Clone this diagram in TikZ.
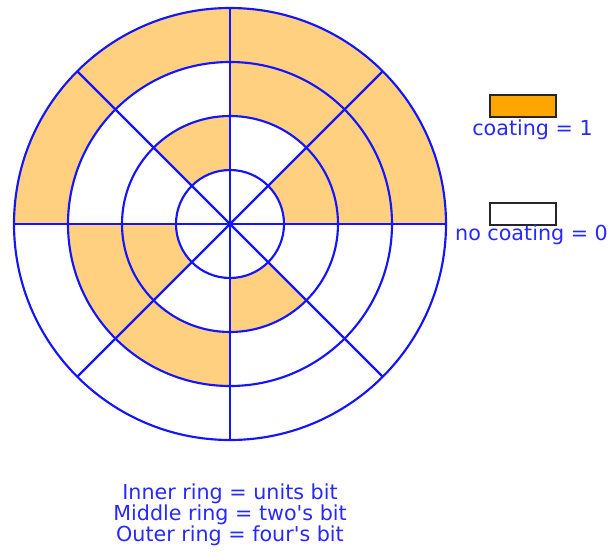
\documentclass[tikz,border=0pt]{standalone}
\usepackage{fontspec}
\setmainfont{DejaVu Sans}[Ligatures=TeXOff]
\definecolor{ringblue}{RGB}{20,20,255}
\definecolor{textblue}{RGB}{40,40,255}
\definecolor{coatfill}{RGB}{255,208,128}
\definecolor{legorange}{RGB}{255,165,0}
\newcommand\ringsect[3]{\fill[coat] (#1:#2) arc[start angle=#1, end angle=#1+45, radius=#2] -- (#1+45:#3) arc[start angle=#1+45, end angle=#1, radius=#3] -- cycle;}
\begin{document}
\begin{tikzpicture}[x=0.75pt,y=0.75pt,
  coat/.style={fill=coatfill},
  ringline/.style={draw=ringblue,line width=1.6pt},
  legbox/.style={draw=black!85,line width=1.1pt},
  lbl/.style={text=textblue,font=\fontsize{15.5}{18}\selectfont,anchor=base,inner sep=0pt}]
\useasboundingbox (0,0) rectangle (610,551);
\coordinate (c) at (230,327);
\begin{scope}[shift={(c)}]
  % inner ring (units bit)
  \ringsect{0}{40.5pt}{81pt}
  \ringsect{90}{40.5pt}{81pt}
  \ringsect{180}{40.5pt}{81pt}
  \ringsect{270}{40.5pt}{81pt}
  % middle ring (two's bit)
  \ringsect{0}{81pt}{121.5pt}
  \ringsect{45}{81pt}{121.5pt}
  \ringsect{180}{81pt}{121.5pt}
  \ringsect{225}{81pt}{121.5pt}
  % outer ring (four's bit)
  \ringsect{0}{121.5pt}{162pt}
  \ringsect{45}{121.5pt}{162pt}
  \ringsect{90}{121.5pt}{162pt}
  \ringsect{135}{121.5pt}{162pt}
  % circles
  \draw[ringline] (0,0) circle[radius=40.5pt];
  \draw[ringline] (0,0) circle[radius=81pt];
  \draw[ringline] (0,0) circle[radius=121.5pt];
  \draw[ringline] (0,0) circle[radius=162pt];
  % spokes
  \draw[ringline] (180:162pt) -- (0:162pt);
  \draw[ringline] (225:162pt) -- (45:162pt);
  \draw[ringline] (270:162pt) -- (90:162pt);
  \draw[ringline] (315:162pt) -- (135:162pt);
\end{scope}
% legend
\draw[legbox,fill=legorange] (490,456) rectangle (556,434);
\node[lbl] (coat1) at (532.5,416) {coating = 1};
\draw[legbox,fill=white] (490,348) rectangle (556,326);
\node[lbl] (coat0) at (531.5,311) {no coating = 0};
% caption
\node[lbl] (l1) at (230,52) {Inner ring = units bit};
\node[lbl] (l2) at (230,31) {Middle ring = two's bit};
\node[lbl] (l3) at (230,10) {Outer ring = four's bit};
\end{tikzpicture}
\end{document}
